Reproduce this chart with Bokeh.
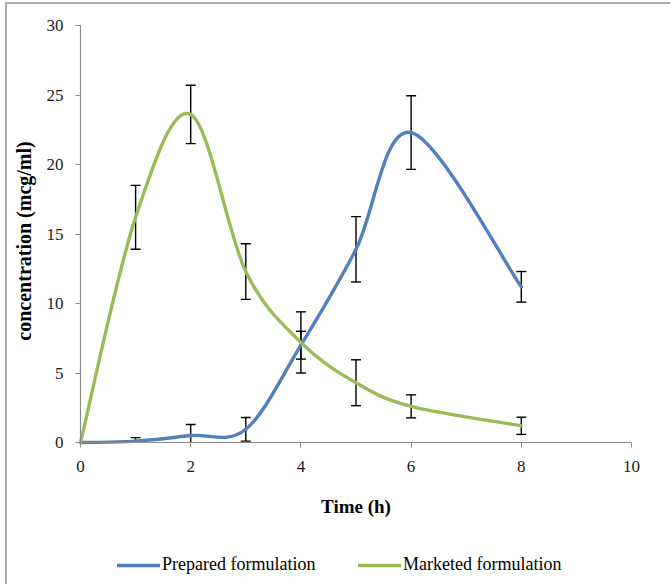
import numpy as np
from bokeh.plotting import figure
from bokeh.models import (Range1d, Legend, LegendItem, FixedTicker, ColumnDataSource,
                          LinearAxis, Label)
from bokeh.embed import file_html
from bokeh.resources import INLINE

# ---- data ----
time_h = [0, 1, 2, 3, 4, 5, 6, 8]
prepared = [0.0, 0.1, 0.5, 0.95, 7.0, 13.9, 22.3, 11.2]
prepared_sd = [0.0, 0.25, 0.8, 0.85, 1.0, 2.35, 2.65, 1.1]
marketed = [0.0, 16.2, 23.6, 12.3, 7.2, 4.3, 2.6, 1.2]
marketed_sd = [0.0, 2.3, 2.1, 2.0, 2.2, 1.65, 0.83, 0.62]
x_ticks = [0, 2, 4, 6, 8, 10]
y_ticks = [0, 5, 10, 15, 20, 25, 30]
series_names = ["Prepared formulation", "Marketed formulation"]
x_title = "Time (h)"
y_title = "concentration (mcg/ml)"

BLUE = "#4F81BD"
GREEN = "#9BBB59"
SERIF = "Liberation Serif"

# canvas geometry (pixels) -> ranges so that the plotting frame covers the canvas
W, H = 665, 582
X0_PX, X10_PX = 73, 624     # where x=0 and x=10 fall
Y0_PX, Y30_PX = 438, 21     # where y=0 and y=30 fall
kx = (X10_PX - X0_PX) / 10.0
ky = (Y0_PX - Y30_PX) / 30.0
x_range = Range1d(-X0_PX / kx, 10 + (W - X10_PX) / kx)
y_range = Range1d(-(H - Y0_PX) / ky, 30 + Y30_PX / ky)


def smooth_segments(xs, ys):
    """Bezier control points (Excel-like smoothing) computed from the data."""
    xs = np.asarray(xs, float)
    ys = np.asarray(ys, float)
    n = len(xs)
    d = dict(x0=[], y0=[], x1=[], y1=[], cx0=[], cy0=[], cx1=[], cy1=[])
    for i in range(n - 1):
        a = i - 1 if i > 0 else i
        b = i + 2 if i + 2 < n else i + 1
        d["x0"].append(xs[i]); d["y0"].append(ys[i])
        d["x1"].append(xs[i + 1]); d["y1"].append(ys[i + 1])
        d["cx0"].append(xs[i] + (xs[i + 1] - xs[a]) / 6.0)
        d["cy0"].append(ys[i] + (ys[i + 1] - ys[a]) / 6.0)
        d["cx1"].append(xs[i + 1] - (xs[b] - xs[i]) / 6.0)
        d["cy1"].append(ys[i + 1] - (ys[b] - ys[i]) / 6.0)
    return ColumnDataSource(d)


p = figure(
    width=W, height=H,
    x_range=x_range, y_range=y_range,
    x_axis_location=None, y_axis_location=None,
    output_backend="svg", toolbar_location=None,
    min_border=0,
    styles={"margin-left": "5px", "margin-top": "2px",
            "border-left": "2px solid #ababab", "border-top": "2px solid #ababab"},
)
p.outline_line_color = None
p.xgrid.visible = False
p.ygrid.visible = False
p.background_fill_color = "white"
p.border_fill_color = "white"

xax = LinearAxis(fixed_location=0, bounds=(0, 10))
yax = LinearAxis(fixed_location=0, bounds=(0, 30))
p.add_layout(xax, "below")
p.add_layout(yax, "left")

for ax in (xax, yax):
    ax.axis_line_color = "#8c8c8c"
    ax.axis_line_width = 1.2
    ax.major_tick_line_color = "#8c8c8c"
    ax.major_tick_out = 5
    ax.major_tick_in = 0
    ax.minor_tick_line_color = None
    ax.major_label_text_font = SERIF
    ax.major_label_text_font_size = "17px"
    ax.major_label_text_color = "#1a1a1a"

xax.ticker = FixedTicker(ticks=x_ticks)
yax.ticker = FixedTicker(ticks=y_ticks)
xax.major_label_standoff = 13
yax.major_label_standoff = 12

# axis titles
p.add_layout(Label(x=5, y=-4.6, text=x_title, text_align="center",
                   text_baseline="middle", text_font=SERIF, text_font_style="bold",
                   text_font_size="19px", text_color="black"))
p.add_layout(Label(x=-1.03, y=14.5, text=y_title, angle=np.pi / 2,
                   text_align="center", text_baseline="middle", text_font=SERIF,
                   text_font_style="bold", text_font_size="20px", text_color="black"))

# error bars (clipped at the axis minimum, like the original); drawn under the lines
for vals, sds in ((prepared, prepared_sd), (marketed, marketed_sd)):
    v = np.asarray(vals); s = np.asarray(sds)
    mask = s > 0
    t = np.asarray(time_h)[mask]
    up = (v + s)[mask]
    lo_raw = (v - s)[mask]
    lo = np.maximum(lo_raw, 0.0)
    p.segment(x0=t, y0=lo, x1=t, y1=up, line_color="black", line_width=1.4)
    cap_lo = lo_raw >= 0
    p.scatter(x=np.concatenate([t, t[cap_lo]]), y=np.concatenate([up, lo_raw[cap_lo]]),
              marker="dash", size=10, line_color="black", line_width=1.4)

# smoothed series
rends = []
for vals, col in ((prepared, BLUE), (marketed, GREEN)):
    src = smooth_segments(time_h, vals)
    r = p.bezier(x0="x0", y0="y0", x1="x1", y1="y1", cx0="cx0", cy0="cy0",
                 cx1="cx1", cy1="cy1", source=src, line_color=col, line_width=3.4,
                 line_cap="round")
    rends.append(r)

for name, r, loc in ((series_names[0], rends[0], (110, 11)),
                     (series_names[1], rends[1], (351, 11))):
    lg = Legend(items=[LegendItem(label=name, renderers=[r], index=0)], location=loc,
                orientation="horizontal", padding=0, margin=0, spacing=0,
                glyph_width=43, glyph_height=20, label_height=20,
                label_standoff=2, border_line_color=None,
                background_fill_alpha=0, label_text_font=SERIF,
                label_text_font_size="18px", label_text_color="black")
    p.add_layout(lg, "center")

open("out.html", "w").write(file_html(p, INLINE))
